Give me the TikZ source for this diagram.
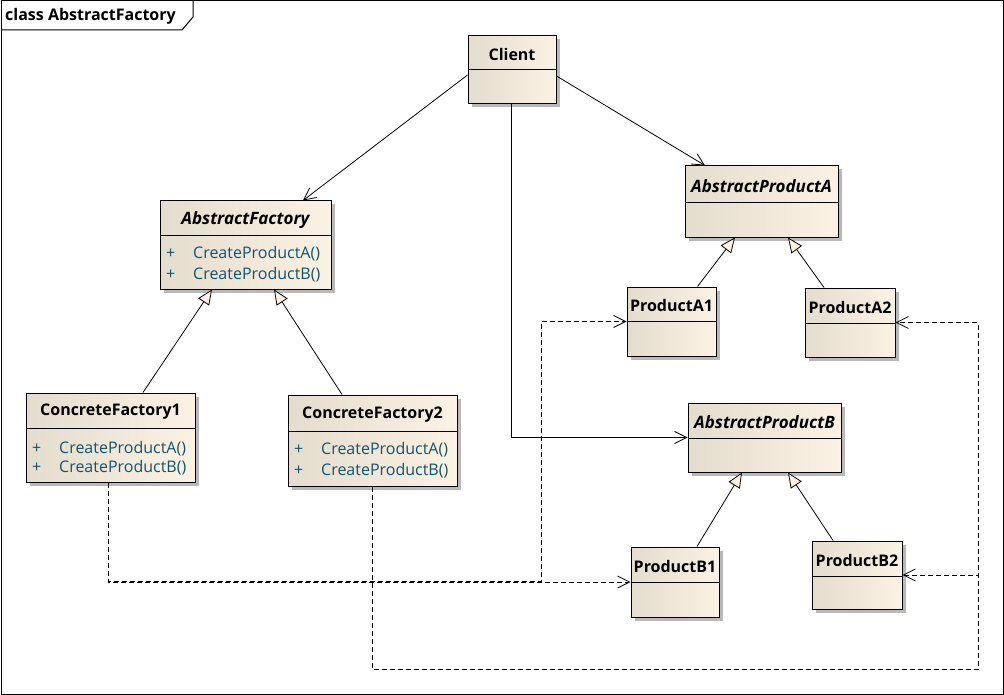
\documentclass[tikz,border=0pt]{standalone}
\usepackage{fontspec}
\setmainfont{Open Sans}
\usetikzlibrary{arrows.meta,shadows,calc}

\definecolor{boxL}{RGB}{228,220,204}
\definecolor{boxR}{RGB}{251,242,228}
\definecolor{opcol}{RGB}{18,84,112}
\definecolor{shadowgrey}{RGB}{185,185,185}

\tikzset{
  cls/.style={draw=black, line width=1pt, left color=boxL, right color=boxR,
    inner sep=0pt,
    drop shadow={shadow xshift=3.5pt, shadow yshift=-3.5pt, fill=shadowgrey, opacity=1}},
  divider/.style={line width=1pt},
  title/.style={font=\bfseries\fontsize{16}{18}\selectfont, inner sep=0pt},
  abstitle/.style={font=\bfseries\itshape\fontsize{17}{19}\selectfont, inner sep=0pt},
  op/.style={font=\fontsize{16}{18}\selectfont, text=opcol, inner sep=0pt, anchor=west},
  assoc/.style={line width=0.8pt, -{Straight Barb[length=12pt,width=12pt,line width=0.8pt]}},
  gen/.style={line width=0.8pt, -{Triangle[open,length=15pt,width=13pt,fill=boxR,line width=0.8pt]}},
  dep/.style={line width=0.8pt, dash pattern=on 5pt off 3pt,
    -{Straight Barb[length=12pt,width=12pt,line width=0.8pt]}},
}

% class box: name, left, top, right, bottom, divider y, title style, title text
\newcommand\umlclass[8]{%
  \node[cls, minimum width={(#4-#2)*1pt}, minimum height={(#5-#3)*1pt}]
    (#1) at ({(#2+#4)/2},{(#3+#5)/2}) {};
  \draw[divider] (#2,#6) -- (#4,#6);
  \node[#7] (#1-t) at ({(#2+#4)/2},{(#3+#6)/2+1.5}) {#8};
}

\begin{document}
\begin{tikzpicture}[x=1pt,y=-1pt]
\useasboundingbox (0,0) rectangle (1004,695);
\fill[white] (0,0) rectangle (1004,695);

% diagram frame with its name tab
\draw[line width=1pt] (1,1) rectangle (1003,694);
\draw[line width=1pt] (1,30) -- (182,30) -- (193,17) -- (193,1);
\node[title, anchor=west] (frame-t) at (5,16) {class AbstractFactory};

% classes
\umlclass{client}{468}{36}{556}{104}{70}{title}{Client}
\umlclass{af}{160}{201}{331}{289}{236}{abstitle}{AbstractFactory}
\umlclass{cf1}{26}{393}{195}{482}{428}{title}{ConcreteFactory1}
\umlclass{cf2}{288}{395}{457}{486}{431}{title}{ConcreteFactory2}
\umlclass{apa}{685}{166}{838}{238}{203}{abstitle}{AbstractProductA}
\umlclass{pa1}{627}{287}{716}{356}{321}{title}{ProductA1}
\umlclass{pa2}{805}{288}{895}{357}{323}{title}{ProductA2}
\umlclass{apb}{688}{403}{841}{472}{438}{abstitle}{AbstractProductB}
\umlclass{pb1}{631}{547}{719}{617}{582}{title}{ProductB1}
\umlclass{pb2}{812}{541}{902}{609}{576}{title}{ProductB2}

% operations
\node[op] (af-p1) at (166,254) {+};
\node[op] (af-o1) at (193,254) {CreateProductA()};
\node[op] (af-p2) at (166,275) {+};
\node[op] (af-o2) at (193,275) {CreateProductB()};
\node[op] (cf1-p1) at (32,449) {+};
\node[op] (cf1-o1) at (59,449) {CreateProductA()};
\node[op] (cf1-p2) at (32,468) {+};
\node[op] (cf1-o2) at (59,468) {CreateProductB()};
\node[op] (cf2-p1) at (294,450) {+};
\node[op] (cf2-o1) at (321,450) {CreateProductA()};
\node[op] (cf2-p2) at (294,471) {+};
\node[op] (cf2-o2) at (321,471) {CreateProductB()};

% associations from the client
\draw[assoc] ($(client.west)+(0,5)$) -- ($(af.north)+(57.5,0)$);
\draw[assoc] ($(client.east)+(0,6)$) -- ($(apa.north)+(-56.5,0)$);
\draw[assoc] ($(client.south)+(-1,0)$) |- (apb.west);

% generalizations
\draw[gen] ($(cf1.north)+(32.5,0)$) -- ($(af.south)+(-33.5,0)$);
\draw[gen] ($(cf2.north)+(-30.5,0)$) -- ($(af.south)+(28.5,0)$);
\draw[gen] ($(pa1.north)+(26,0)$) -- ($(apa.north)+(-26.5,72)$);
\draw[gen] ($(pa2.north)+(-26,0)$) -- ($(apa.north)+(26.5,72)$);
\draw[gen] ($(pb1.north)+(22,0)$) -- ($(apb.south)+(-22.5,0)$);
\draw[gen] ($(pb2.north)+(-24,0)$) -- ($(apb.south)+(23.5,0)$);

% dependencies (the two from ConcreteFactory1 share the horizontal run)
\coordinate (j1) at (541,581);
\coordinate (j2) at (978,669);
\draw[dep] ($(cf1.south)+(-2.5,0)$) |- (pb1.west);
\draw[dep] ($(cf1.south)+(-2.5,0)$) |- (j1) |- (pa1.west);
\draw[dep] ($(cf2.south)+(-0.5,0)$) |- (j2) |- (pa2.east);
\draw[dep] ($(cf2.south)+(-0.5,0)$) |- (j2) |- (pb2.east);
\end{tikzpicture}
\end{document}
